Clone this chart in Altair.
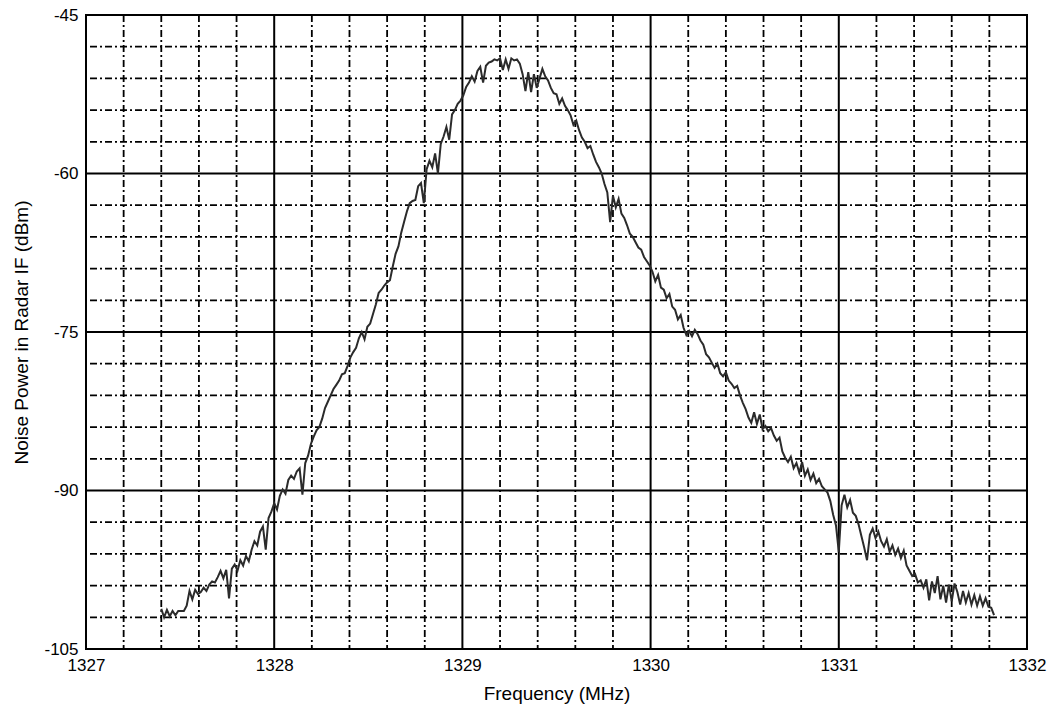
import altair as alt
import pandas as pd

# Swept spectrum analyzer trace: one reading every 15 kHz starting at 1327.40 MHz
FREQ_START_MHZ = 1327.40
FREQ_STEP_MHZ = 0.015

power_dbm = [
    -101.2, -102.0, -101.3, -101.9, -101.4, -101.8, -101.4, -101.4, -101.4, -100.9,
    -99.5, -100.3, -99.4, -99.8, -99.6, -99.2, -99.5, -98.9, -98.6, -98.7,
    -98.2, -97.6, -98.3, -97.5, -100.2, -97.4, -97.0, -97.6, -96.6, -97.1,
    -96.2, -96.7, -95.6, -94.8, -95.2, -93.9, -93.4, -95.6, -92.6, -92.0,
    -91.2, -91.8, -90.5, -89.9, -90.3, -89.0, -88.6, -88.9, -88.2, -87.9,
    -90.4, -87.4, -86.7, -85.6, -84.9, -84.3, -84.0, -83.2, -82.2, -81.6,
    -81.0, -80.4, -80.0, -79.6, -79.0, -78.9, -78.2, -77.4, -76.9, -76.5,
    -75.6, -75.0, -75.7, -74.5, -74.2, -73.3, -72.4, -71.3, -71.0, -70.6,
    -70.3, -70.1, -68.8, -67.6, -66.9, -65.6, -64.6, -63.6, -62.8, -62.6,
    -62.5, -61.2, -60.9, -62.8, -59.6, -58.8, -59.4, -58.1, -60.0, -57.2,
    -56.5, -55.6, -56.8, -54.4, -54.0, -53.4, -53.1, -52.6, -51.8, -51.4,
    -50.8, -51.3, -50.3, -49.9, -51.4, -49.8, -49.5, -49.4, -49.2, -49.3,
    -49.1, -50.2, -49.2, -50.1, -49.1, -49.3, -49.2, -49.6, -50.6, -52.2,
    -50.4, -52.3, -50.6, -51.9, -51.0, -50.1, -50.8, -51.2, -51.9, -52.4,
    -52.5, -53.4, -52.9, -53.6, -54.0, -54.5, -55.4, -55.0, -55.9, -56.6,
    -57.0, -57.6, -57.4, -58.2, -58.9, -59.4, -60.0, -61.0, -61.8, -64.6,
    -62.1, -63.2, -62.4, -63.8, -64.2, -64.9, -65.7, -66.0, -66.5, -67.0,
    -67.2, -67.9, -68.3, -68.7, -69.3, -70.2, -69.6, -70.8, -71.0, -71.8,
    -71.4, -72.6, -72.9, -73.8, -73.4, -74.6, -75.3, -74.9, -75.4, -74.8,
    -75.2, -75.8, -76.2, -77.1, -77.4, -77.9, -78.4, -78.0, -78.9, -79.2,
    -78.8, -79.6, -79.9, -80.3, -80.1, -81.0, -81.7, -82.3, -83.1, -83.6,
    -82.6, -83.7, -82.8, -84.2, -83.9, -84.4, -84.1, -84.8, -85.3, -85.0,
    -86.3, -86.9, -87.3, -86.8, -87.9, -87.4, -88.3, -87.3, -88.6, -88.0,
    -89.0, -88.4, -89.3, -88.9, -89.6, -89.9, -90.2, -91.0, -92.3, -93.3,
    -95.8, -91.4, -90.4, -91.6, -90.9, -92.1, -92.4, -93.2, -94.3, -95.4,
    -96.6, -94.2, -93.6, -94.5, -93.9, -94.8, -95.3, -94.6, -95.8, -95.2,
    -96.1, -95.5, -96.4, -95.7, -97.1, -97.6, -98.1, -97.9, -98.7, -98.5,
    -99.2, -98.4, -100.4, -98.6, -99.7, -98.1, -100.3, -99.0, -100.6, -98.9,
    -100.5, -98.8, -99.6, -100.8, -99.5, -100.6, -99.7, -100.8, -99.9, -100.9,
    -100.0, -100.9, -100.2, -101.0, -101.1, -101.8,
]

freq_mhz = [round(FREQ_START_MHZ + FREQ_STEP_MHZ * i, 3) for i in range(len(power_dbm))]

# Axis ticks and grid positions
x_major = [1327, 1328, 1329, 1330, 1331, 1332]
y_major = [-105, -90, -75, -60, -45]
x_minor = [1327.2, 1327.4, 1327.6, 1327.8,
           1328.2, 1328.4, 1328.6, 1328.8,
           1329.2, 1329.4, 1329.6, 1329.8,
           1330.2, 1330.4, 1330.6, 1330.8,
           1331.2, 1331.4, 1331.6, 1331.8]
y_minor = [-102, -99, -96, -93,
           -87, -84, -81, -78,
           -72, -69, -66, -63,
           -57, -54, -51, -48]

trace = pd.DataFrame({"freq": freq_mhz, "power": power_dbm})

FONT = "Liberation Sans"

x_scale = alt.Scale(domain=[1327, 1332], nice=False, zero=False)
y_scale = alt.Scale(domain=[-105, -45], nice=False, zero=False)

# plain hyphen-minus in the tick labels
plain_label = "'' + datum.value"

x_axis = alt.Axis(values=x_major, labelExpr=plain_label, grid=False, ticks=False,
                  domain=False, labelFontSize=17, labelPadding=8, labelColor="black",
                  labelFont=FONT, title="Frequency (MHz)", titleFont=FONT,
                  titleFontSize=19, titleFontWeight="normal", titleColor="black",
                  titlePadding=11, labelFlush=False)
y_axis = alt.Axis(values=y_major, labelExpr=plain_label, grid=False, ticks=False,
                  domain=False, labelFontSize=17, labelPadding=8, labelColor="black",
                  labelFont=FONT, title="Noise Power in Radar IF (dBm)", titleFont=FONT,
                  titleFontSize=19, titleFontWeight="normal", titleColor="black",
                  titlePadding=12, labelFlush=False)

dash_dot = [7, 3, 2, 3]

v_minor = alt.Chart(pd.DataFrame({"f": x_minor})).mark_rule(
    color="black", strokeWidth=1.8, strokeDash=dash_dot
).encode(x=alt.X("f:Q", scale=x_scale, axis=x_axis))

h_minor = alt.Chart(pd.DataFrame({"p": y_minor})).mark_rule(
    color="black", strokeWidth=1.8, strokeDash=dash_dot
).encode(y=alt.Y("p:Q", scale=y_scale, axis=y_axis))

v_major = alt.Chart(pd.DataFrame({"f": x_major})).mark_rule(
    color="black", strokeWidth=2
).encode(x=alt.X("f:Q", scale=x_scale, axis=x_axis))

h_major = alt.Chart(pd.DataFrame({"p": y_major})).mark_rule(
    color="black", strokeWidth=2
).encode(y=alt.Y("p:Q", scale=y_scale, axis=y_axis))

line = alt.Chart(trace).mark_line(
    color="#2b2b2b", strokeWidth=2, interpolate="linear", clip=True
).encode(
    x=alt.X("freq:Q", scale=x_scale, axis=x_axis),
    y=alt.Y("power:Q", scale=y_scale, axis=y_axis),
)

chart = alt.layer(v_minor, h_minor, v_major, h_major, line).properties(
    width=941,
    height=634,
    autosize=alt.AutoSizeParams(type="none"),
    padding={"left": 86, "top": 15, "right": 28, "bottom": 64},
    background="white",
).configure_view(stroke="black", strokeWidth=2)

chart.save("out.html", embed_options={"renderer": "svg", "actions": False})
